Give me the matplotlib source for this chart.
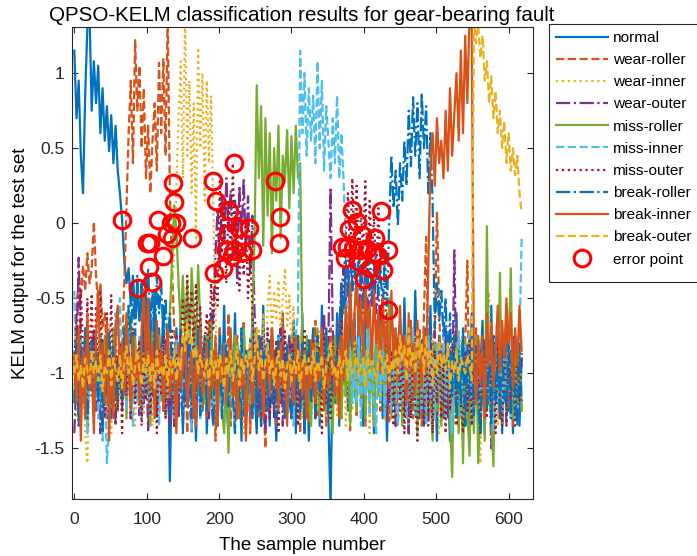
import numpy as np
import matplotlib
matplotlib.use('Agg')
import matplotlib.pyplot as plt
from matplotlib.patches import Rectangle

plt.rcParams['font.family'] = ['Liberation Sans', 'DejaVu Sans']
plt.rcParams['axes.unicode_minus'] = False

# sample number: every 3rd sample of the 620-sample test set
samples = np.arange(0, 620, 3)

# KELM outputs, in hundredths (value * 100)
normal = [115, 70, 95, 45, 20, 85, 130, 140, 75, 108,
          80, 105, 60, 90, 55, 78, 48, 72, 40, 65,
          35, 20, 2, -25, -40, -30, -55, -35, -60, -45,
          -65, -40, -90, -50, -110, -60, -95, -45, -120, -70,
          -100, -55, -125, -75, -172, -90, -135, -70, -115, -60,
          -140, -80, -120, -55, -130, -85, -145, -95, -65, -125,
          -75, -140, -95, -60, -125, -80, -135, -70, -115, -55,
          -120, -140, -75, -115, -60, -130, -90, -145, -70, -110,
          -85, -130, -60, -110, -140, -80, -120, -55, -125, -95,
          -135, -70, -110, -145, -80, -120, -60, -130, -95, -75,
          -125, -65, -140, -90, -115, -60, -130, -80, -145, -95,
          -70, -120, -85, -135, -55, -110, -80, -130, -189, -90,
          -120, -60, -135, -50, -105, -70, -125, -45, -95, -60,
          -115, -55, -100, -135, -70, -50, -120, -80, -140, -65,
          -110, -60, -130, -85, -145, -90, -125, -70, -135, -80,
          -65, -125, -50, -105, -140, -75, -115, -45, -100, -130,
          -80, -135, -70, -115, -55, -125, -90, -145, -75, -110,
          -130, -70, -105, -145, -80, -120, -60, -135, -95, -75,
          -125, -85, -140, -60, -115, -80, -130, -95, -65, -140,
          -85, -120, -55, -130, -80, -115, -70, -140, -95, -60,
          -125, -85, -140, -75, -120, -135, -90]

wear_roller = [-90, -60, -35, -50, -28, -45, -20, -40, -30, 1,
               -35, -55, -40, -70, -60, -85, -75, -95, -80, -100,
               -90, -110, -85, -40, 10, 60, 95, 40, 122, 75,
               105, 50, 90, 30, 65, 20, 55, 80, 35, 107,
               60, 110, 45, 140, 20, -30, -70, -95, -120, -85,
               -115, -75, -140, -85, -120, -60, -135, -95, -70, -125,
               -80, -130, -65, -115, -85, -145, -95, -70, -128, -80,
               -120, -60, -135, -90, -115, -75, -130, -95, -65, -125,
               -85, -140, -90, -120, -70, -130, -85, -115, -150, -80,
               -125, -70, -110, -135, -80, -118, -60, -128, -90, -115,
               -75, -130, -95, -80, -140, -70, -120, -90, -132, -78,
               -115, -65, -128, -85, -118, -75, -135, -95, -70, -125,
               -85, -120, -65, -130, -90, -115, -80, -138, -95, -70,
               -128, -80, -118, -65, -135, -85, -120, -75, -130, -95,
               -70, -125, -85, -115, -60, -132, -90, -120, -80, -135,
               -95, -75, -128, -80, -115, -65, -130, -85, -120, -70,
               -135, -60, -9, -85, -120, -80, -70, 7, -55, -110,
               -125, -75, -115, -130, -80, -120, -70, -135, -90, -118,
               -80, -25, -128, -85, -120, -70, -130, -95, -75, -125,
               -85, -115, -65, -135, -90, -120, -78, -128, -95, -70,
               -122, -85, -135, -75, -115, -90, -125]

wear_inner = [-100, -130, -75, -120, -90, -140, -160, -110, -75, -125,
              -80, -120, -65, -130, -90, -115, -70, -140, -95, -78,
              -125, -85, -118, -70, -130, -90, -115, -75, -135, -92,
              -120, -80, -128, -70, -115, -85, -135, -78, -110, -125,
              -85, -115, -70, -120, -70, -40, -20, 25, 70, 108,
              30, 140, 45, 95, 20, 80, -10, 117, 50, 100,
              15, 95, 40, 85, 10, -60, -100, -80, -115, -90,
              -115, -135, -85, -120, -75, -130, -95, -80, -140, -85,
              -118, -75, -128, -82, -115, -70, -130, -60, -105, -55,
              -35, -80, -45, -65, -38, -75, -50, -30, -70, -48,
              -80, -55, -105, -120, -75, -130, -85, -115, -78, -135,
              -110, -80, -125, -72, -118, -85, -130, -78, -115, -88,
              -75, -128, -85, -120, -70, -135, -90, -82, -125, -78,
              -115, -85, -130, -75, -120, -88, -140, -80, -110, -125,
              -78, -118, -85, -132, -72, -115, -120, -82, -128, -90,
              -85, -125, -75, -115, -135, -80, -110, -70, -128, -85,
              -118, -78, -130, -88, -115, -75, -125, -85, -140, -80,
              -90, -128, -82, -120, -75, -135, -88, -115, -78, -125,
              -85, -115, -72, -130, -90, -80, -120, -160, -85, -130,
              -75, -46, -115, -125, -80, -135, -88, -118, -78, -120,
              -85, -130, -75, -115, -125, -80, -110]

wear_outer = [-140, -100, -23, -75, -120, -85, -135, -80, -115, -70,
              -125, -85, -140, -78, -115, -130, -82, -120, -75, -135,
              -90, -80, -125, -72, -118, -85, -130, -78, -115, -88,
              -128, -75, -120, -85, -138, -80, -115, -70, -130, -90,
              -82, -125, -78, -115, -135, -85, -120, -75, -130, -90,
              -80, -122, -75, -115, -140, -82, -118, -70, -128, -85,
              -115, -78, -130, -85, -60, -20, 10, -30, 20, -15,
              30, -5, 22, -25, 15, -40, 25, -10, 30, -20,
              18, -35, 5, -60, -85, -125, -75, -115, -140, -80,
              -120, -75, -130, -85, -115, -70, -135, -88, -120, -78,
              -130, -85, -115, -75, -125, -80, -140, -90, -78, -120,
              -85, -130, -75, -115, -88, -60, -120, -80, 24, -70,
              -100, -85, -70, -45, -30, -55, -25, -60, -35, -20,
              -45, -65, -28, -50, -35, -70, -40, -55, -25, -60,
              -45, -70, -50, -90, -130, -75, -120, -85, -135, -80,
              -115, -75, -125, -88, -140, -82, -118, -70, -130, -90,
              -78, -122, -85, -135, -80, -115, -72, -128, -90, -82,
              -120, -75, -130, -85, -115, -18, -110, -78, -125, -85,
              -135, -80, -118, -75, -128, -90, -82, -140, -95, -78,
              -125, -88, -150, -80, -120, -75, -130, -90, -85, -135,
              -82, -118, -75, -128, -90, -120, -85]

miss_roller = [-115, -75, -130, -85, -120, -70, -135, -90, -80, -125,
               -78, -115, -85, -140, -75, -120, -82, -130, -70, -110,
               -125, -80, -115, -68, -130, -85, -60, -120, -75, -110,
               -82, -128, -78, -115, -85, -135, -72, -120, -88, -75,
               -118, -85, -130, -80, -60, -25, 12, -5, -40, -70,
               -35, -75, -40, -90, -30, -60, -85, -28, -65, -95,
               -120, -75, -110, -65, -130, -85, -115, -78, -125, -140,
               -90, -153, -80, -120, -75, -130, -85, -115, -70, -125,
               -85, -120, -60, -10, 92, 30, 78, -15, 70, 5,
               60, -20, 50, 15, 65, -10, 45, 28, 62, 10,
               58, 20, 65, 30, 40, -80, -125, -75, -115, -135,
               -85, -120, -70, -130, -90, -78, -125, -82, -115, -140,
               -75, -120, -88, -130, -80, -115, -68, -135, -85, -110,
               -125, -78, -115, -82, -130, -70, -120, -88, -135, -80,
               -115, -75, -60, -125, -85, -50, -130, -80, -120, -90,
               -75, -135, -85, -115, -70, -128, -90, -82, -140, -78,
               -120, -85, -130, -75, -115, -145, -80, -125, -90, -135,
               -85, -120, -75, -130, -169, -90, -80, -140, -95, -160,
               -78, -125, -155, -85, -140, -75, -160, -120, -90, -145,
               -2, -115, -130, -162, -80, -120, -33, -135, -85, -125,
               -90, -30, -130, -80, -120, -85, -125]

miss_inner = [-45, -110, -130, -75, -120, -85, -140, -95, -80, -125,
              -85, -130, -75, -145, -100, -160, -135, -85, -120, -60,
              -75, -50, -115, -80, -125, -70, -110, -135, -85, -120,
              -75, -130, -88, -115, -70, -128, -82, -120, -78, -135,
              -90, -80, -125, -75, -118, -85, -130, -78, -115, -88,
              -128, -75, -120, -85, -138, -80, -115, -70, -130, -90,
              -82, -125, -78, -115, -135, -85, -120, -75, -130, -90,
              -80, -122, -75, -115, -140, -82, -118, -70, -128, -85,
              -115, -78, -130, -85, -120, -75, -135, -90, -82, -125,
              -78, -120, -85, -130, -75, -115, -88, -128, -80, -118,
              -85, -135, -75, -60, 115, 60, 100, 45, 90, 55,
              85, 40, 108, 50, 95, 35, 78, 55, 30, 70,
              40, 85, 30, 60, 28, -10, -100, -85, -120, -95,
              -120, -75, -135, -88, -115, -70, -128, -82, -120, -140,
              -85, -118, -75, -130, -90, -80, -125, -72, -115, -135,
              -82, -120, -75, -130, -88, -115, -70, -128, -90, -78,
              -125, -85, -135, -75, -118, -88, -130, -80, -115, -120,
              -75, -128, -85, -115, -140, -80, -120, -72, -130, -90,
              -82, -118, -75, -135, -88, -120, -78, -130, -90, -85,
              -125, -75, -115, -138, -82, -120, -70, -128, -88, -115,
              -78, -130, -85, -120, -135, -80, -9]

miss_outer = [-95, -60, -120, -45, -85, -130, -50, -100, -47, -110,
              -55, -115, -45, -95, -130, -60, -105, -48, -120, -70,
              -125, -80, -140, -75, -115, -85, -130, -70, -120, -90,
              -78, -135, -85, -118, -72, -128, -90, -80, -140, -85,
              -115, -75, -130, -82, -120, -70, -135, -88, -115, -78,
              -50, -85, -35, -70, -45, -90, -40, -75, -55, -100,
              -80, -60, -95, -40, -70, -35, -55, 28, -20, 10,
              -40, 15, -25, 40, -30, 5, -45, -10, -35, 0,
              -50, -20, -60, -90, -120, -75, -135, -85, -115, -70,
              -130, -88, -120, -78, -140, -85, -115, -72, -128, -90,
              -80, -122, -75, -135, -88, -118, -70, -130, -85, -115,
              -78, -125, -90, -82, -140, -75, -120, -88, -130, -80,
              -105, -85, -118, -70, -40, -10, 20, -25, 30, -15,
              25, -30, 10, -20, 28, -35, 15, -25, 5, -40,
              10, -30, -15, -45, -80, -120, -85, -135, -90, -78,
              -125, -85, -140, -95, -75, -130, -82, -120, -145, -88,
              -118, -135, -80, -125, -90, -140, -85, -120, -78, -130,
              -90, -140, -82, -125, -95, -75, -135, -88, -120, -140,
              -85, -125, -78, -135, -90, -120, -80, -140, -95, -85,
              -130, -78, -120, -88, -140, -82, -115, -135, -75, -125,
              -90, -120, -82, -135, -85, -118, -90]

break_roller = [-120, -80, -135, -85, -115, -70, -130, -90, -78, -125,
                -85, -120, -75, -140, -88, -115, -72, -130, -82, -118,
                -100, -85, -118, -70, -90, -55, -80, -45, -75, -35,
                -65, -40, -85, -50, -30, -70, -45, -90, -35, -60,
                -40, -75, -50, -85, -60, -100, -85, -115, -95, -108,
                -135, -80, -120, -75, -130, -88, -115, -70, -128, -90,
                -82, -125, -78, -115, -135, -85, -120, -75, -130, -90,
                -80, -122, -75, -115, -140, -82, -118, -70, -128, -85,
                -115, -78, -130, -85, -120, -75, -135, -90, -82, -125,
                -78, -120, -85, -130, -75, -115, -88, -128, -80, -118,
                -130, -85, -115, -75, -125, -80, -140, -90, -78, -120,
                -85, -130, -75, -115, -88, -122, -70, -128, -82, -115,
                -110, -85, -70, -40, -60, -25, -50, -20, -45, -30,
                -55, -18, -40, -60, -28, -45, -15, -50, -35, -22,
                -48, -30, -60, -20, -55, 0, 45, 10, 35, -2,
                40, 15, 55, 25, 75, 38, 84, 45, 80, 30,
                87, 50, 78, 20, 60, 13, -70, -40, -65, -45,
                -75, -50, -100, -60, -115, -75, -130, -85, -120, -70,
                -135, -85, -115, -75, -128, -82, -120, -140, -90, -78,
                -125, -85, -135, -75, -118, -88, -130, -80, -115, -122,
                -78, -130, -85, -115, -135, -80, -120]

break_inner = [-90, -120, -70, -145, -85, -130, -60, -110, -95, -140,
               -75, -45, -100, -80, -120, -65, -145, -90, -130, -70,
               -55, -100, -80, -115, -60, -95, -125, -75, -105, -85,
               -120, -70, -44, -95, -50, -110, -80, -130, -65, -100,
               -85, -125, -95, -70, -115, -90, -105, -140, -80, -110,
               -95, -75, -120, -100, -85, -130, -90, -110, -70, -115,
               -100, -80, -125, -95, -110, -75, -135, -90, -105, -85,
               -120, -95, -70, -115, -100, -130, -85, -110, -90, -145,
               -105, -80, -120, -95, -75, -110, -90, -130, -100, -85,
               -115, -70, -105, -90, -125, -80, -110, -95, -135, -85,
               -100, -120, -75, -105, -90, -115, -85, -130, -95, -110,
               -80, -120, -95, -105, -70, -125, -90, -110, -100, -85,
               -115, -95, -130, -75, -105, -55, -90, -40, -80, -60,
               -35, -75, -50, -90, -40, -70, -55, -95, -45, -80,
               -60, -100, -50, -85, -65, -110, -45, -90, -70, -105,
               -55, -95, -75, -120, -60, -100, -80, -115, -65, -90,
               -110, -70, -100, -30, 40, 60, 25, 70, 40, 55,
               30, 75, 35, 90, 45, 72, 100, 55, 115, 60,
               125, 80, 140, 130, -90, -120, -75, -105, -85, -130,
               -60, -95, -70, -110, -85, -55, -100, -65, -90, -50,
               -80, -60, -110, -70, -95, -55, -85]

break_outer = [-100, -88, -105, -95, -110, -90, -98, -108, -85, -100,
               -92, -105, -88, -112, -95, -100, -85, -108, -90, -98,
               -105, -88, -110, -92, -82, -100, -90, -108, -95, -85,
               -98, -108, -90, -100, -88, -105, -92, -110, -85, -100,
               -95, -102, -88, -108, -92, -100, -85, -105, -90, -98,
               -70, -85, -67, -80, -75, -90, -82, -100, -88, -95,
               -102, -90, -108, -85, -100, -92, -105, -88, -98, -110,
               -90, -100, -85, -105, -95, -82, -108, -90, -100, -88,
               -95, -80, -105, -90, -70, -98, -85, -105, -92, -80,
               -100, -90, -108, -95, -85, -102, -90, -110, -95, -88,
               -105, -92, -100, -85, -110, -95, -88, -102, -90, -100,
               -85, -105, -92, -98, -88, -110, -95, -90, -80, -100,
               -95, -108, -88, -100, -92, -85, -105, -90, -100, -95,
               -88, -102, -95, -90, -108, -85, -100, -92, -98, -105,
               -90, -85, -100, -95, -88, -105, -92, -98, -85, -100,
               -75, -92, -82, -105, -70, -95, -85, -100, -72, -90,
               -80, -100, -75, -95, -85, -108, -90, -100, -78, -95,
               -88, -98, -80, -110, -92, -100, -85, -105, -90, -95,
               -100, -88, -95, -105, 138, 120, 132, 110, 125, 95,
               108, 80, 98, 70, 88, 60, 75, 50, 68, 40,
               60, 35, 50, 32, 45, 20, 7]

# misclassified samples
err_x = [66, 88, 100, 103, 104, 107, 116, 122, 128, 133,
         134.5, 136, 138, 140, 162, 192, 193.5, 196, 206, 209,
         213, 214, 217.5, 221, 221, 227, 233, 242, 245, 277.5,
         283, 284, 370, 374, 377, 380, 383.5, 385, 390, 392,
         395, 398, 400, 405, 409, 414, 416, 420, 423, 427,
         434, 434]
err_y = [0.02, -0.43, -0.13, -0.29, -0.13, -0.39, 0.02, -0.22, -0.07, 0.0,
         -0.1, 0.27, 0.14, 0.0, -0.1, 0.28, -0.33, 0.15, -0.3, -0.18,
         -0.07, 0.08, -0.22, 0.40, -0.18, -0.03, -0.19, -0.03, -0.18, 0.28,
         -0.13, 0.04, -0.16, -0.23, -0.16, -0.04, 0.09, -0.17, 0.01, -0.25,
         -0.18, -0.08, -0.37, -0.17, -0.3, -0.2, -0.1, -0.22, 0.08, -0.31,
         -0.18, -0.58]

labels = ['normal', 'wear-roller', 'wear-inner', 'wear-outer', 'miss-roller',
          'miss-inner', 'miss-outer', 'break-roller', 'break-inner', 'break-outer']
series = [normal, wear_roller, wear_inner, wear_outer, miss_roller,
          miss_inner, miss_outer, break_roller, break_inner, break_outer]
colors = ['#0072BD', '#D95319', '#EDB120', '#7E2F8E', '#77AC30',
          '#4DBEEE', '#A2142F', '#0072BD', '#D95319', '#EDB120']
styles = ['-', '--', ':', '-.', '-', '--', ':', '-.', '-', '--']

fig = plt.figure(figsize=(6.97, 5.56), dpi=100)
ax = fig.add_axes([0.103, 0.102, 0.661, 0.850])

for y, lab, c, ls in zip(series, labels, colors, styles):
    n = min(len(y), len(samples))
    ax.plot(samples[:n], np.array(y[:n]) / 100.0, ls, color=c, lw=1.6, label=lab)
ax.plot(err_x, err_y, 'o', mfc='none', mec='#FF0000', ms=12, mew=2.2,
        label='error point', zorder=5)

ax.set_xlim(-3.5, 633)
ax.set_ylim(-1.84, 1.31)
ax.set_xticks(range(0, 601, 100))
ax.set_yticks([-1.5, -1, -0.5, 0, 0.5, 1])
ax.set_yticklabels(['-1.5', '-1', '-0.5', '0', '0.5', '1'])
ax.tick_params(direction='in', top=True, right=True, length=4, width=0.8,
               labelsize=12.5, colors='#262626')
ax.tick_params(axis='x', pad=9)
ax.tick_params(axis='y', pad=5)
for sp in ax.spines.values():
    sp.set_color('#262626')
    sp.set_linewidth(0.8)

ax.set_title('QPSO-KELM classification results for gear-bearing fault',
             fontsize=14.8, pad=4)
ax.set_xlabel('The sample number', fontsize=13.5, labelpad=7)
ax.set_ylabel('KELM output for the test set', fontsize=13.5, labelpad=4)

# legend box runs past the right edge of the figure, as in the original
fig.add_artist(Rectangle((0.7877, 0.4928), 0.3, 0.464, transform=fig.transFigure,
                         facecolor='white', edgecolor='#262626', lw=0.8, zorder=4))
leg = fig.legend(loc='upper left', bbox_to_anchor=(0.7877, 0.9568),
                 fontsize=11.1, handlelength=3.4, handletextpad=0.3,
                 labelspacing=0.53, borderpad=0.45, borderaxespad=0,
                 frameon=False)
leg.set_zorder(5)

plt.savefig('out.png', dpi=100)
